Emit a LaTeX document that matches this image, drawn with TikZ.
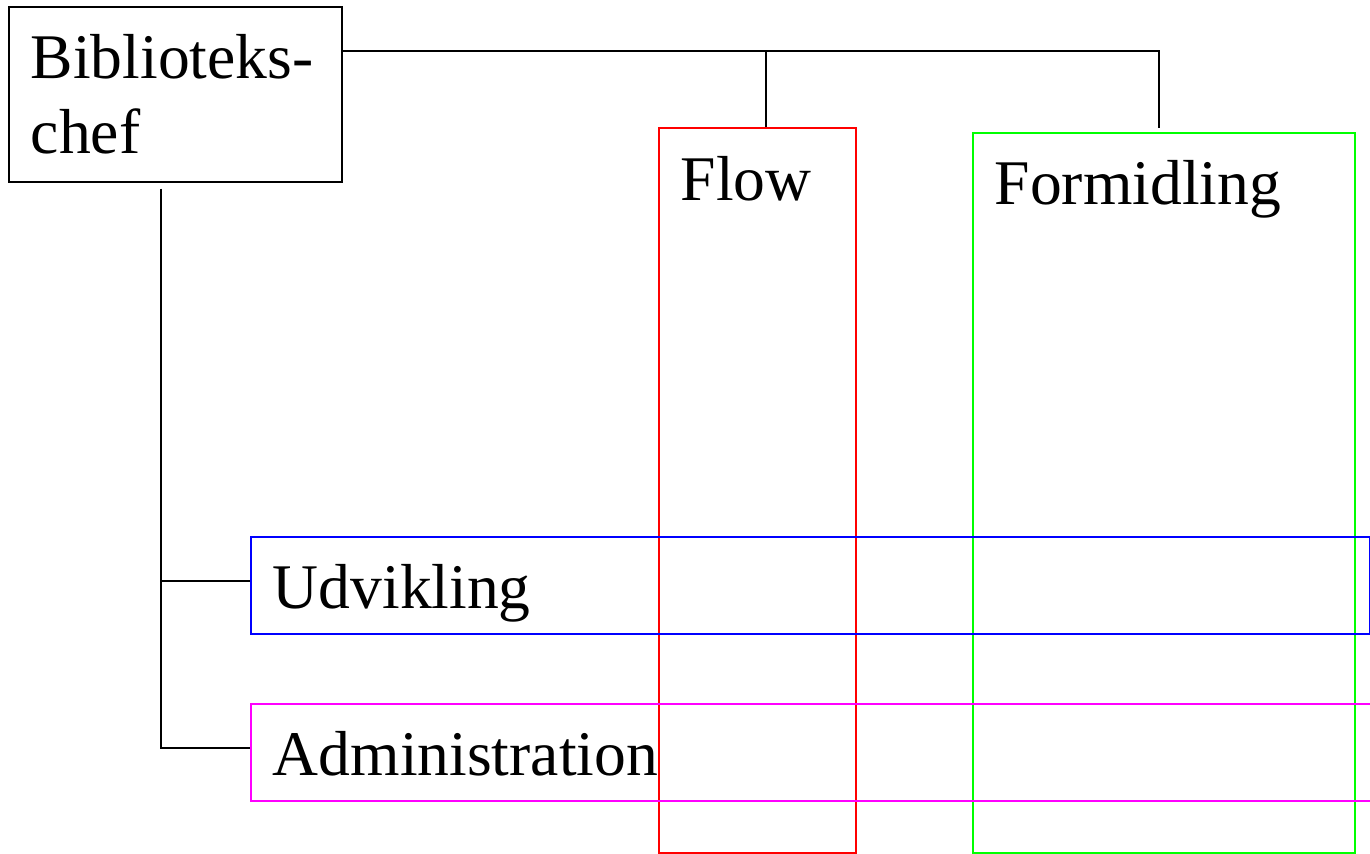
\documentclass[tikz,border=0pt]{standalone}
\usepackage{fontspec}
\setmainfont{Liberation Serif}
\definecolor{flowred}{RGB}{255,0,0}
\definecolor{formgreen}{RGB}{0,255,0}
\definecolor{udvblue}{RGB}{0,0,255}
\definecolor{admmagenta}{RGB}{255,0,255}

\begin{document}
\begin{tikzpicture}[x=0.5pt, y=-0.5pt,
        unit/.style={draw, line width=0.8pt, anchor=north west, align=left,
            inner xsep=11pt, inner ysep=0pt,
            font=\fontsize{31.8pt}{37.5pt}\selectfont}]
        \useasboundingbox (0,0) rectangle (1370,853);
        \node[unit, text width=144.5pt, minimum height=87.5pt] (chef) at (8,6) {Biblioteks-\\chef};
        \node[unit, draw=flowred, text width=76.5pt, text height=36.5pt, text depth=326pt] (flow) at (658,127) {Flow};
        \node[unit, draw=formgreen, text width=169pt, text height=36pt, text depth=324pt] (formidling) at (972,132) {Formidling};
        \node[unit, draw=udvblue, text width=537.5pt, text height=36pt, text depth=12.5pt] (udvikling) at (250,536) {Udvikling};
        \node[unit, draw=admmagenta, text width=545pt, text height=36pt, text depth=12.5pt] (admin) at (250,703) {Administration};
        \coordinate (trunk) at ([xshift=-7.25pt, yshift=-3pt]chef.south);
        \draw[line width=0.9pt] ([yshift=-22.5pt]chef.north east) -| ([xshift=-2.5pt, yshift=2pt]formidling.north);
        \draw[line width=0.9pt] ([xshift=4.25pt]flow.north) -- ([xshift=4.25pt]flow.north |- 0,51);
        \draw[line width=0.9pt] (trunk) |- ([yshift=2.25pt]admin.west);
        \draw[line width=0.9pt] ([yshift=2.25pt]udvikling.west) -- ([yshift=2.25pt]udvikling.west -| trunk);
    \end{tikzpicture}
\end{document}
